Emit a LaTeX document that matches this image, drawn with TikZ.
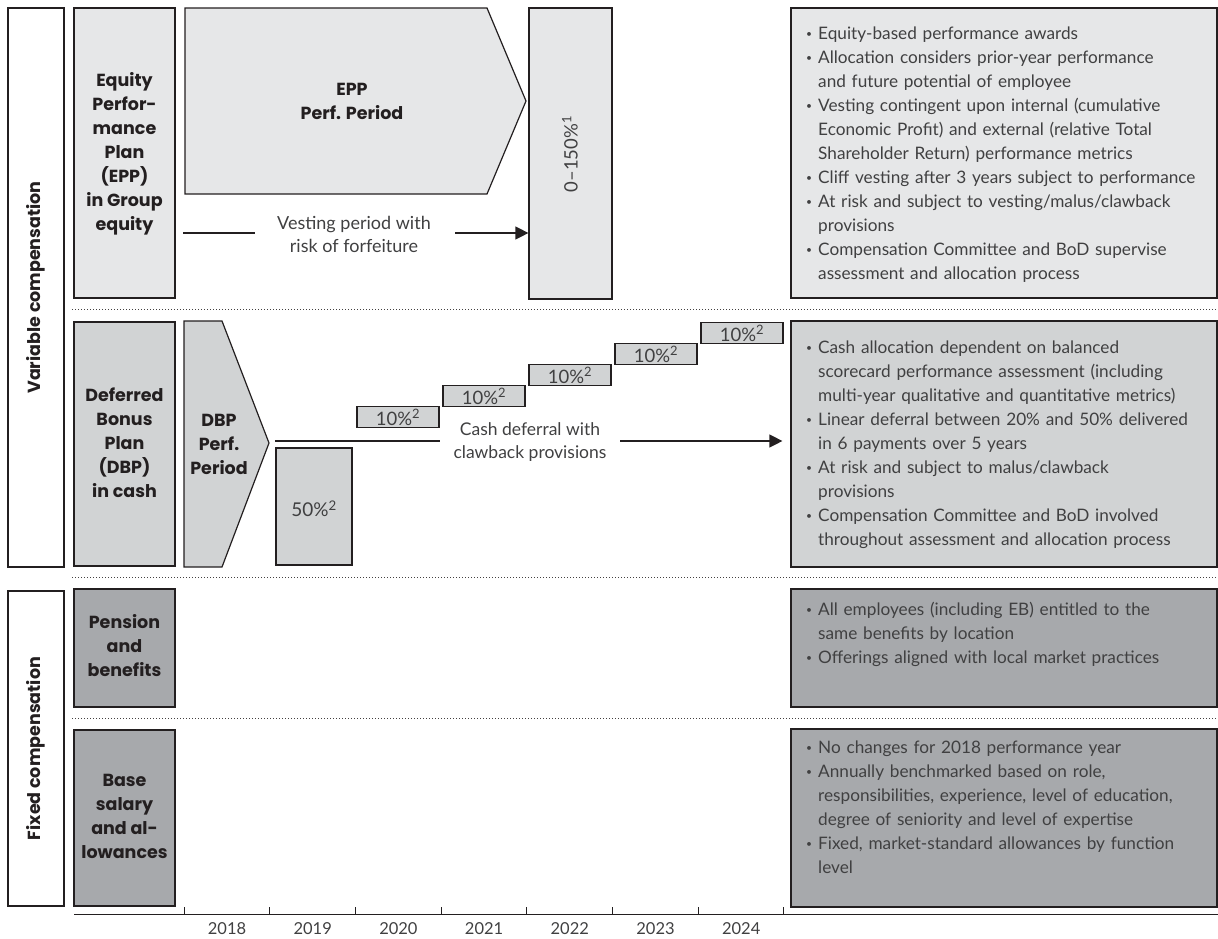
\documentclass[tikz,border=0pt]{standalone}
\usepackage{fontspec}
\usepackage{graphicx}
\setmainfont{Lato}
\newfontfamily\labfont{Poppins}
\usetikzlibrary{arrows.meta}
\definecolor{ink}{HTML}{231F20}
\definecolor{txt}{HTML}{404041}
\definecolor{fillA}{HTML}{E6E7E8}
\definecolor{fillB}{HTML}{D1D3D4}
\definecolor{fillC}{HTML}{A7A9AC}
\newcommand{\bpt}{\makebox[12pt][l]{\raisebox{0.12em}{\scalebox{0.6}{•}}}}
\newcommand{\bitem}[1]{\par\noindent\hangindent=12pt\hangafter=1\bpt{\let\\\newline#1}}
\tikzset{
  box/.style={draw=ink, line width=1.2pt, inner sep=0pt},
  shapeline/.style={draw=ink, line width=1.2pt, line join=miter},
  lab/.style={font=\labfont\bfseries\fontsize{17.5}{24}\selectfont, text=ink, align=center, inner sep=0pt},
  body/.style={font=\fontsize{17.2}{24}\selectfont, text=txt, inner sep=0pt},
  num/.style={font=\fontsize{19}{24}\selectfont, text=txt, inner sep=0pt},
  bullets/.style={body, text width=410pt, anchor=west},
  dots/.style={draw=ink!85, line width=0.8pt, dash pattern=on 0.8pt off 2.2pt},
  conn/.style={draw=ink, line width=1.2pt},
  arr/.style={draw=ink, line width=1.2pt, -{Triangle[length=13pt,width=13pt]}},
}
\begin{document}
\begin{tikzpicture}[x=1pt,y=-1pt]
\useasboundingbox (0,0) rectangle (1218,938);

% dotted separators
\coordinate (d1a) at (72,309);  \coordinate (d1b) at (1218,309);
\coordinate (d2a) at (72,577);  \coordinate (d2b) at (1218,577);
\coordinate (d3a) at (72,718);  \coordinate (d3b) at (1218,718);
\draw[dots] (d1a) -- (d1b);
\draw[dots] (d2a) -- (d2b);
\draw[dots] (d3a) -- (d3b);

% group boxes
\node[box, fill=white, minimum width=56, minimum height=559] (varbox) at (36,287.5) {};
\node[lab, rotate=90] (vartxt) at (varbox.center) {Variable compensation};
\node[box, fill=white, minimum width=56, minimum height=315] (fixbox) at (36,748.5) {};
\node[lab, rotate=90] (fixtxt) at (fixbox.center) {Fixed compensation};

% category boxes
\node[box, fill=fillA, minimum width=101, minimum height=290] (epp) at (124.5,153) {};
\node[lab] (epptxt) at (124.5,154) {Equity\\Perfor-\\mance\\Plan\\(EPP)\\in Group\\equity};
\node[box, fill=fillB, minimum width=101, minimum height=244] (dbp) at (124.5,444) {};
\node[lab] (dbptxt) at (124.5,443) {Deferred\\Bonus\\Plan\\(DBP)\\in cash};
\node[box, fill=fillC, minimum width=101, minimum height=118] (pen) at (124.5,648) {};
\node[lab] (pentxt) at (124.5,646) {Pension\\and\\benefits};
\node[box, fill=fillC, minimum width=101, minimum height=176] (base) at (124.5,818) {};
\node[lab] (basetxt) at (124.5,816) {Base\\salary\\and al-\\lowances};

% EPP performance period arrow
\path[shapeline, fill=fillA] (185,8) -- (487,8) -- (526,101) -- (487,194) -- (185,194) -- cycle;
\node[lab] (eppperf) at (352,101) {EPP\\Perf. Period};

% 0-150% box
\node[box, fill=fillA, minimum width=83, minimum height=291] (zero) at (570.5,153.5) {};
\node[num, rotate=90, font=\fontsize{18.5}{24}\selectfont] (zerotxt) at (570,154) {0–150\%\textsuperscript{1}};

% vesting connector
\node[body, align=center, font=\fontsize{18}{23}\selectfont] (vest) at (354,234) {Vesting period with\\risk of forfeiture};
\coordinate (v1) at (183,233);
\coordinate (v2) at (255,233);
\coordinate (v3) at (455,233);
\draw[conn] (v1) -- (v2);
\draw[arr] (v3) -- (v3 -| zero.west);

% DBP performance period arrow
\path[shapeline, fill=fillB] (184,321) -- (222,321) -- (269,443) -- (222,567) -- (184,567) -- cycle;
\node[lab] (dbpperf) at (219,444) {DBP\\Perf.\\Period};

% payout boxes
\node[box, fill=fillB, minimum width=76, minimum height=117] (p50) at (314,506.5) {};
\node[num] at (314,509) {50\%\textsuperscript{2}};
\node[box, fill=fillB, minimum width=82, minimum height=21] (b1) at (398,417) {};
\node[box, fill=fillB, minimum width=82, minimum height=21] (b2) at (484,396) {};
\node[box, fill=fillB, minimum width=82, minimum height=21] (b3) at (570,375) {};
\node[box, fill=fillB, minimum width=82, minimum height=21] (b4) at (656,354) {};
\node[box, fill=fillB, minimum width=82, minimum height=21] (b5) at (742,333) {};
\foreach \b in {b1,b2,b3,b4,b5}{
  \node[num, font=\fontsize{18.5}{20}\selectfont] at ([yshift=-0.5pt]\b.center) {10\%\textsuperscript{2}};
}

% cash deferral connector
\node[body, align=center, font=\fontsize{17.5}{23}\selectfont] (cash) at (530,442) {Cash deferral with\\clawback provisions};
\coordinate (c1) at (275,441);
\coordinate (c3) at (620,441);
\draw[conn] (c1) -- (c1 -| b1.east);

% right description boxes
\node[box, fill=fillA, minimum width=426, minimum height=290] (repp) at (1004,153) {};
\node[box, fill=fillB, minimum width=426, minimum height=246] (rdbp) at (1004,444) {};
\node[box, fill=fillC, minimum width=426, minimum height=118] (rpen) at (1004,648) {};
\node[box, fill=fillC, minimum width=426, minimum height=178] (rbase) at (1004,818) {};
\draw[arr] (c3) -- ([xshift=-8pt]c3 -| rdbp.west);

\node[bullets] (reppt) at (806,149) {\rightskip=0pt plus 1fil
\bitem{Equity-based performance awards}
\bitem{Allocation considers prior-year performance\\and future potential of employee}
\bitem{Vesting contingent upon internal (cumulative\\Economic Profit) and external (relative Total\\Shareholder Return) performance metrics}
\bitem{Cliff vesting after 3 years subject to performance}
\bitem{At risk and subject to vesting/malus/clawback\\provisions}
\bitem{Compensation Committee and BoD supervise\\assessment and allocation process}\par};

\node[bullets] (rdbpt) at (806,439) {\rightskip=0pt plus 1fil
\bitem{Cash allocation dependent on balanced\\scorecard performance assessment (including\\multi-year qualitative and quantitative metrics)}
\bitem{Linear deferral between 20\% and 50\% delivered\\in 6 payments over 5 years}
\bitem{At risk and subject to malus/clawback\\provisions}
\bitem{Compensation Committee and BoD involved\\throughout assessment and allocation process}\par};

\node[bullets] (rpent) at (806,629) {\rightskip=0pt plus 1fil
\bitem{All employees (including EB) entitled to the\\same benefits by location}
\bitem{Offerings aligned with local market practices}\par};

\node[bullets] (rbaset) at (806,801.5) {\rightskip=0pt plus 1fil
\bitem{No changes for 2018 performance year}
\bitem{Annually benchmarked based on role,\\responsibilities, experience, level of education,\\degree of seniority and level of expertise}
\bitem{Fixed, market-standard allowances by function\\level}\par};

% time axis
\coordinate (ax0) at (74,914);
\coordinate (ax1) at (1218,914);
\draw[conn, line width=0.9pt] (ax0) -- (ax1);
\foreach \i in {0,...,7}{
  \draw[conn, line width=0.9pt] ({184+85.7*\i},907) -- ({184+85.7*\i},914);
}
\foreach \y [count=\i from 0] in {2018,2019,2020,2021,2022,2023,2024}{
  \node[body, font=\fontsize{16.5}{20}\selectfont] (yr\y) at ({227+85.7*\i},929) {\y};
}
\end{tikzpicture}
\end{document}
